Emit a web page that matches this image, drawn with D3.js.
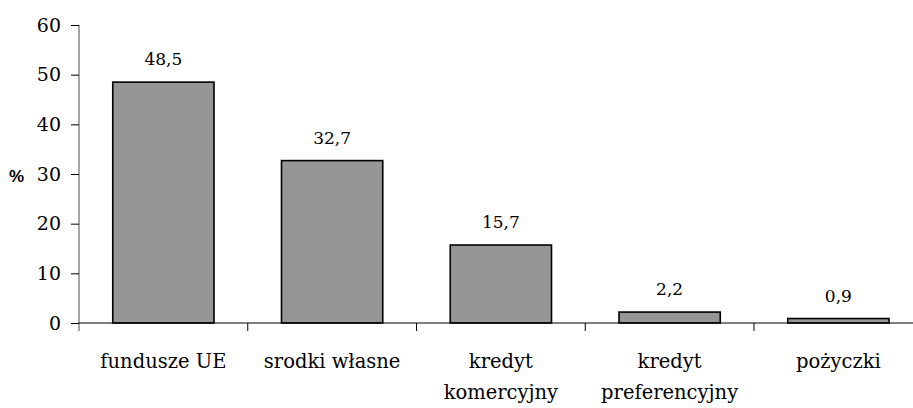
<!DOCTYPE html>
<html><head><meta charset="utf-8">
<script src="https://cdn.jsdelivr.net/npm/d3@7"></script>
<style>body{margin:0;background:#fff}svg{display:block}</style>
</head><body>
<script>
const categories = [["fundusze UE"], ["srodki własne"], ["kredyt", "komercyjny"], ["kredyt", "preferencyjny"], ["pożyczki"]];
const values = [48.5, 32.7, 15.7, 2.2, 0.9];
const labels = ["48,5", "32,7", "15,7", "2,2", "0,9"];
const yTicks = [0, 10, 20, 30, 40, 50, 60];

const W = 913, H = 408;
const serif = "'DejaVu Serif'";
const svg = d3.select("body").append("svg").attr("width", W).attr("height", H);
const x0 = 79, bandW = 168.75;
const x = d3.scaleBand().domain(d3.range(values.length)).range([x0, x0 + bandW * values.length]).paddingInner(0.4).paddingOuter(0.2);
const y = d3.scaleLinear().domain([0, 60]).range([323, 25]);

svg.selectAll("rect.bar").data(values).enter().append("rect")
  .attr("x", (d, i) => x(i)).attr("width", x.bandwidth())
  .attr("y", d => y(d)).attr("height", d => y(0) - y(d))
  .attr("fill", "#969696").attr("stroke", "#000").attr("stroke-width", 1.6);

const ya = svg.append("g").attr("transform", `translate(${x0},0)`)
  .call(d3.axisLeft(y).tickValues(yTicks).tickSize(8).tickPadding(10).tickFormat(d3.format("d")));
ya.attr("font-family", null);
ya.select(".domain").attr("stroke", "#808080").attr("stroke-width", 1.4).attr("d", `M0,${y(60)}V${y(0)+8}`);
ya.selectAll(".tick line").attr("stroke", "#000");
ya.selectAll(".tick text").style("font-family", serif).attr("font-size", 19).attr("fill", "#000");

const xa = svg.append("g");
xa.append("line").attr("x1", x0).attr("x2", W).attr("y1", y(0)).attr("y2", y(0)).attr("stroke", "#000").attr("stroke-width", 1.2);
xa.selectAll("line.sep").data(d3.range(1, values.length + 1)).enter().append("line")
  .attr("x1", i => x0 + i * bandW).attr("x2", i => x0 + i * bandW)
  .attr("y1", y(0)).attr("y2", y(0) + 8).attr("stroke", "#000");
xa.selectAll("text.cat").data(categories).enter().append("text")
  .style("font-family", serif)
  .attr("x", (d, i) => x(i) + x.bandwidth() / 2).attr("y", 368)
  .attr("text-anchor", "middle").attr("font-size", 19.5)
  .each(function(d) {
    d3.select(this).selectAll("tspan").data(d).enter().append("tspan")
      .attr("x", d3.select(this).attr("x")).attr("dy", (t, j) => j ? 31 : 0).text(t => t);
  });

svg.selectAll("text.val").data(values).enter().append("text")
  .style("font-family", serif)
  .attr("x", (d, i) => x(i) + x.bandwidth() / 2).attr("y", d => y(d) - 17)
  .attr("text-anchor", "middle").attr("font-size", 17)
  .text((d, i) => labels[i]);

svg.append("text").attr("x", 9).attr("y", 182).style("font-family", "'Liberation Sans', Arial, sans-serif")
  .attr("font-weight", "bold").attr("font-size", 17).text("%");
</script>
</body></html>
